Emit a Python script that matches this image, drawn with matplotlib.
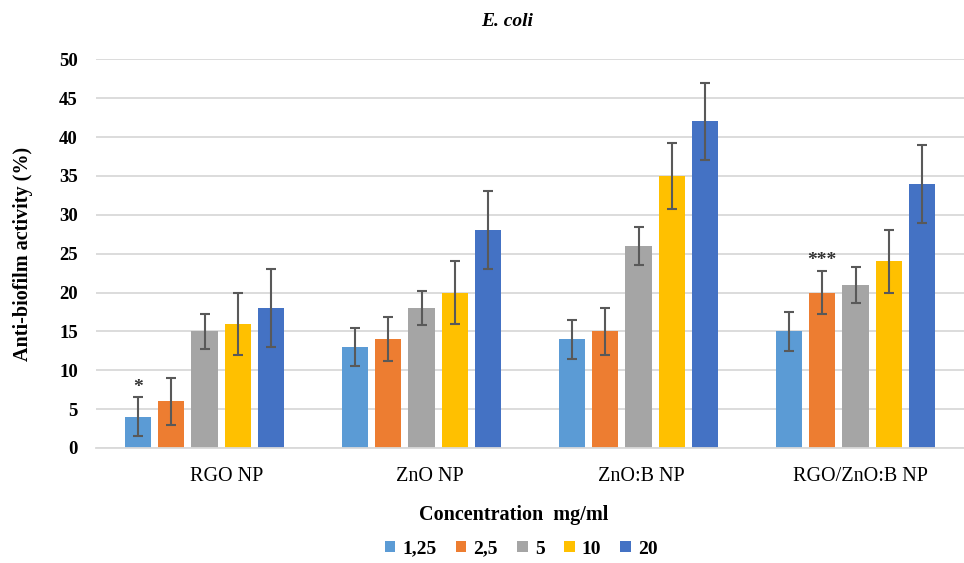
import matplotlib
matplotlib.use("Agg")
import matplotlib.pyplot as plt
import matplotlib.transforms as mtrans
import numpy as np

categories = ["RGO NP", "ZnO NP", "ZnO:B NP", "RGO/ZnO:B NP"]
series_names = ["1,25", "2,5", "5", "10", "20"]
values = {
    "1,25": [4, 13, 14, 15],
    "2,5": [6, 14, 15, 20],
    "5": [15, 18, 26, 21],
    "10": [16, 20, 35, 24],
    "20": [18, 28, 42, 34],
}
errors = {
    "1,25": [2.5, 2.5, 2.5, 2.5],
    "2,5": [3.0, 2.8, 3.0, 2.8],
    "5": [2.3, 2.2, 2.4, 2.3],
    "10": [4.0, 4.0, 4.2, 4.0],
    "20": [5.0, 5.0, 5.0, 5.0],
}
colors = ["#5B9BD5", "#ED7D31", "#A5A5A5", "#FFC000", "#4472C4"]
annotations = [("1,25", 0, "*"), ("2,5", 3, "***")]

plt.rcParams["font.family"] = ["Liberation Serif", "DejaVu Serif"]

W, H = 964, 563
fig = plt.figure(figsize=(W / 100, H / 100), dpi=100)
ax = fig.add_axes([96 / W, 115 / H, 868 / W, 388.7 / H])

x = np.arange(len(categories))
step = 0.153
width = 0.12
for i, name in enumerate(series_names):
    pos = x + (i - 2) * step
    ax.bar(pos, values[name], width, color=colors[i], label=name, zorder=2)
    ax.errorbar(pos, values[name], yerr=errors[name], fmt="none",
                ecolor="#595959", elinewidth=1.5, capsize=3.5, capthick=1.5, zorder=3)

for name, ci, text in annotations:
    i = series_names.index(name)
    pos = x[ci] + (i - 2) * step
    top = values[name][ci] + errors[name][ci]
    ax.text(pos, top + 1.3, text, ha="center", va="center", fontsize=14,
            fontweight="bold", color="#333333")

ax.set_ylim(0, 50)
ax.set_xlim(-0.5, 3.5)
ax.set_yticks(np.arange(0, 51, 5))
ax.set_xticks(x)
ax.set_xticklabels(categories, fontsize=14.5)
ax.tick_params(axis="x", length=0, pad=14)
ax.tick_params(axis="y", length=0, labelsize=13.5, pad=13)
for lab in ax.get_yticklabels():
    lab.set_fontweight("bold")
label_shift_px = [22, 8, 3, 5]
for lab, dx in zip(ax.get_xticklabels(), label_shift_px):
    lab.set_transform(lab.get_transform() + mtrans.ScaledTranslation(dx / 100, 0, fig.dpi_scale_trans))

ax.grid(axis="y", color="#D9D9D9", linewidth=1.3, zorder=0)
for s in ["top", "right", "left"]:
    ax.spines[s].set_visible(False)
ax.spines["bottom"].set_color("#D9D9D9")
ax.spines["bottom"].set_linewidth(1.3)

ax.set_ylabel("Anti-biofilm activity (%)", fontsize=14.5, fontweight="bold")
ax.yaxis.set_label_coords((23 - 96) / 868, 0.5)
ax.yaxis.label.set_va("center")

fig.text(514 / W, 1 - 515 / H, "Concentration  mg/ml", ha="center", va="center",
         fontsize=14.5, fontweight="bold")
fig.text(507 / W, 1 - 22 / H, "E. coli", ha="center", va="center",
         fontsize=14, fontweight="bold", style="italic")

fig.legend(loc="center", bbox_to_anchor=(521 / W, 1 - 549 / H), ncol=5, frameon=False,
           prop={"size": 14, "weight": "bold"}, handlelength=0.55, handleheight=0.55,
           handletextpad=0.35, columnspacing=1.0)

fig.savefig("out.png", dpi=100)
